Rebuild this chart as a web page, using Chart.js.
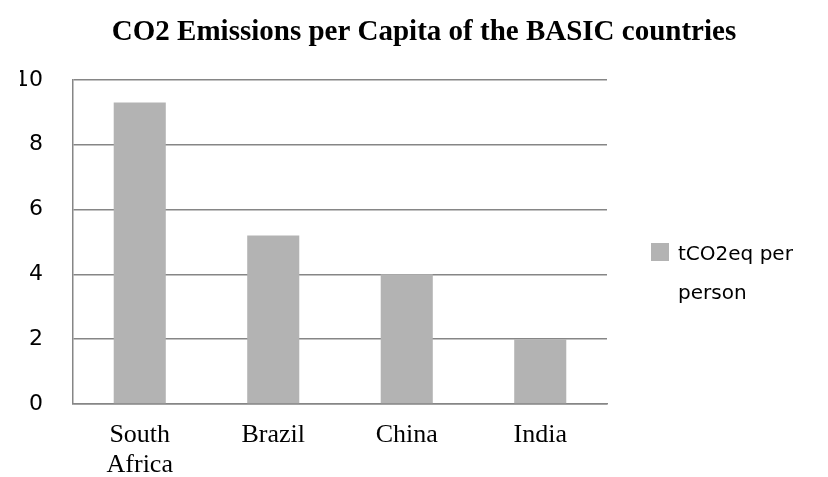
<!DOCTYPE html>
<html>
<head>
<meta charset="utf-8">
<title>CO2 Emissions per Capita</title>
<script src="https://cdn.jsdelivr.net/npm/chart.js@4/dist/chart.umd.min.js"></script>
<style>
    html, body { margin: 0; padding: 0; background: #fff; }
    #wrap { width: 828px; height: 477px; }
</style>
</head>
<body>
<div id="wrap"><canvas id="bar-chart" width="828" height="477"></canvas></div>
<script>
const chartTitle = 'CO2 Emissions per Capita of the BASIC countries';
const countries = [['South', 'Africa'], 'Brazil', 'China', 'India'];
const seriesName = 'tCO2eq per person';
const legendLines = ['tCO2eq per', 'person'];
const emissions = [9.3, 5.2, 4.0, 2.0];
const yTicks = [0, 2, 4, 6, 8, 10];

const barGray = '#b3b3b3';
const lineGray = '#868686';

// leyenda a la derecha, en dos líneas como el original
const sideLegend = {
    id: 'sideLegend',
    afterDraw(chart) {
        const { ctx, chartArea } = chart;
        const x = chartArea.right + 44;
        ctx.save();
        ctx.fillStyle = chart.data.datasets[0].backgroundColor;
        ctx.fillRect(x, 243, 18, 18);
        ctx.fillStyle = '#000';
        ctx.font = '20px "DejaVu Sans"';
        ctx.textBaseline = 'alphabetic';
        ctx.textAlign = 'left';
        legendLines.forEach((line, i) => ctx.fillText(line, x + 27, 260 + i * 39));
        ctx.restore();
    }
};

document.addEventListener('DOMContentLoaded', () => {
    const ctx = document.getElementById('bar-chart').getContext('2d');

    new Chart(ctx, {
        type: 'bar',
        data: {
            labels: countries,
            datasets: [{
                label: seriesName,
                data: emissions,
                backgroundColor: barGray,
                borderWidth: 0,
                categoryPercentage: 1,
                barPercentage: 0.39
            }]
        },
        options: {
            responsive: false,
            animation: false,
            layout: { padding: { left: 20, right: 0, top: 0, bottom: 0 } },
            plugins: {
                legend: { display: false },
                tooltip: { enabled: false },
                title: {
                    display: true,
                    text: chartTitle,
                    color: '#000',
                    font: { family: 'Liberation Serif', size: 29, weight: 'bold' },
                    padding: { top: 15, bottom: 30 }
                }
            },
            scales: {
                x: {
                    grid: { display: false, drawTicks: false },
                    border: { display: true, color: lineGray, width: 1.5 },
                    ticks: {
                        color: '#000',
                        padding: 16,
                        font: { family: 'Liberation Serif', size: 26, lineHeight: 1.15 }
                    },
                    afterFit: scale => { scale.height = 73; }
                },
                y: {
                    min: 0,
                    max: 10,
                    grid: { color: lineGray, lineWidth: 1.5, drawTicks: false },
                    border: { display: true, color: lineGray, width: 1.5 },
                    ticks: {
                        color: '#000',
                        padding: 30,
                        stepSize: 2,
                        font: { family: 'DejaVu Sans', size: 22 },
                        callback: value => yTicks.includes(value) ? value : ''
                    },
                    afterFit: scale => { scale.width = 53; }
                },
                // eje vacío para reservar el espacio de la leyenda
                legendSpace: {
                    position: 'right',
                    display: true,
                    grid: { display: false, drawTicks: false },
                    border: { display: false },
                    ticks: { display: false },
                    afterFit: scale => { scale.width = 221; }
                }
            }
        },
        plugins: [sideLegend]
    });
});
</script>
</body>
</html>
